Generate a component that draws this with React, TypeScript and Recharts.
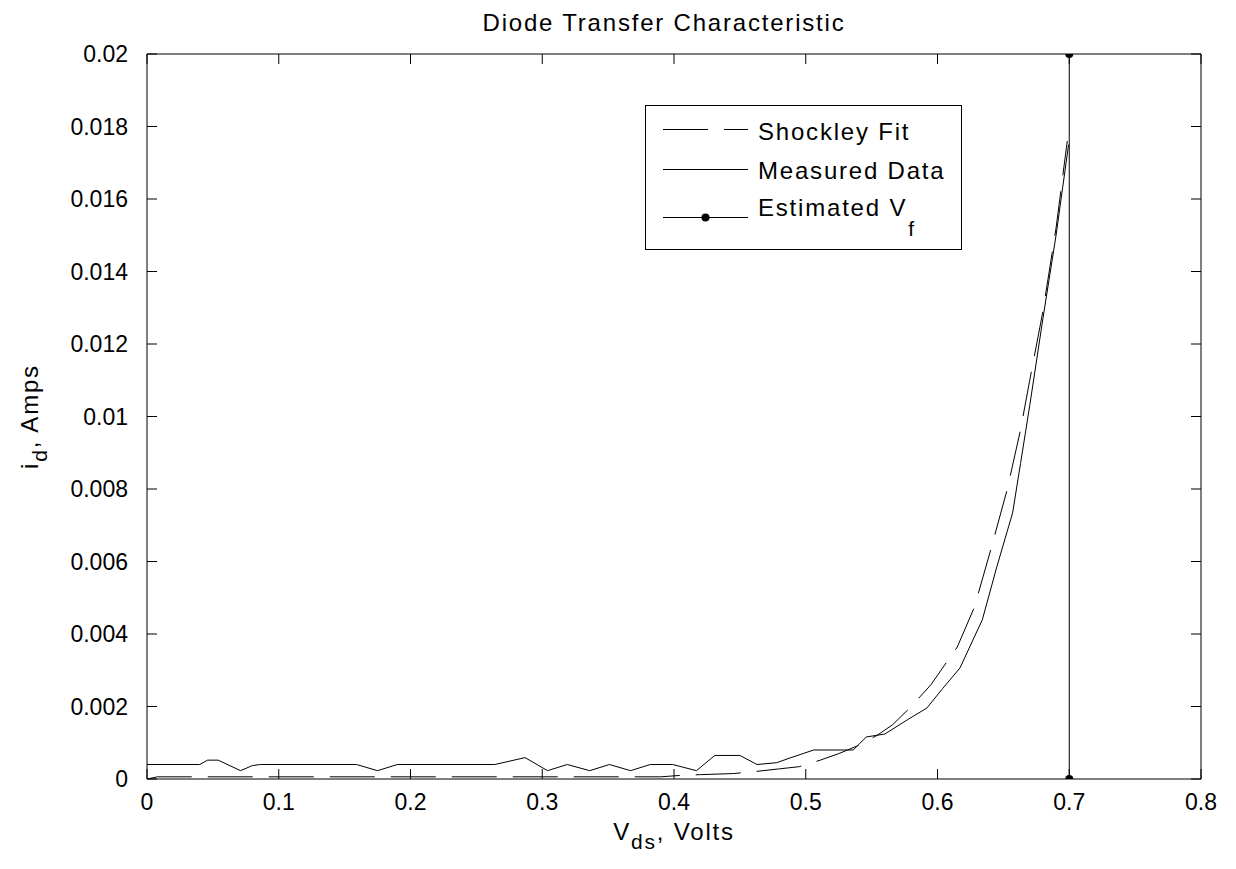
import React from 'react';
import { ComposedChart, Line, XAxis, YAxis } from 'recharts';

// ---- data ----
const measuredV = [0, 0.04, 0.046, 0.054, 0.071, 0.08, 0.086, 0.159, 0.175, 0.19, 0.264, 0.287, 0.304, 0.319, 0.336, 0.351, 0.367, 0.382, 0.399, 0.417, 0.431, 0.45, 0.463, 0.478, 0.488, 0.506, 0.536, 0.546, 0.56, 0.577, 0.592, 0.604, 0.617, 0.634, 0.645, 0.657, 0.663, 0.67, 0.68, 0.69, 0.6995];
const measuredI = [0.0004, 0.0004, 0.00052, 0.00052, 0.00023, 0.00037, 0.0004, 0.0004, 0.00023, 0.0004, 0.0004, 0.00059, 0.00023, 0.0004, 0.00023, 0.0004, 0.00023, 0.0004, 0.0004, 0.00023, 0.00065, 0.00065, 0.0004, 0.00045, 0.00058, 0.0008, 0.0008, 0.00116, 0.00124, 0.00163, 0.00196, 0.0025, 0.00306, 0.00439, 0.00585, 0.00734, 0.0087, 0.0103, 0.0127, 0.015, 0.0175];

const shockleyV = [0, 0.008, 0.39, 0.405, 0.42, 0.445, 0.46, 0.48, 0.495, 0.511, 0.525, 0.539, 0.554, 0.566, 0.579, 0.595, 0.608, 0.615, 0.628, 0.641, 0.653, 0.663, 0.67, 0.68, 0.69, 0.6985];
const shockleyI = [0, 0.00006, 0.00006, 0.0001, 0.00012, 0.00015, 0.0002, 0.00028, 0.00034, 0.00052, 0.0007, 0.00091, 0.0012, 0.0015, 0.00196, 0.0026, 0.00328, 0.00364, 0.00474, 0.0064, 0.008, 0.00963, 0.011, 0.0129, 0.0152, 0.0176];

const vfV = [0.7, 0.7];
const vfI = [0, 0.02];

const xTicks = [0, 0.1, 0.2, 0.3, 0.4, 0.5, 0.6, 0.7, 0.8];
const yTicks = [0, 0.002, 0.004, 0.006, 0.008, 0.01, 0.012, 0.014, 0.016, 0.018, 0.02];

const measured = measuredV.map((v, k) => ({ v, i: measuredI[k] }));
const shockley = shockleyV.map((v, k) => ({ v, i: shockleyI[k] }));
const vf = vfV.map((v, k) => ({ v, i: vfI[k] }));

// ---- layout ----
const W = 1236;
const H = 869;
const MARGIN = { top: 54, right: 35, left: 0, bottom: 0 };
const YW = 147;
const XH = 90;
const FONT = '"Liberation Sans", Arial, Helvetica, sans-serif';
const FS = 23;
const TFS = 24;
const LS = 1.8;
const TICK = 10;
const PLOT_L = YW;
const PLOT_R = W - MARGIN.right;
const PLOT_T = MARGIN.top;
const PLOT_B = H - XH;

const fmt = (n: number) => {
  if (n === 0) return '0';
  return String(parseFloat(n.toFixed(4)));
};

const XTick = (props: any) => {
  const { x, y, payload } = props;
  const cx = payload.coordinate;
  return (
    <g>
      <line x1={cx} x2={cx} y1={PLOT_B} y2={PLOT_B - TICK} stroke="#000" strokeWidth={1} />
      <line x1={cx} x2={cx} y1={PLOT_T} y2={PLOT_T + TICK} stroke="#000" strokeWidth={1} />
      <text x={x} y={y} dy="0.71em" textAnchor="middle" fontFamily={FONT} fontSize={FS} fill="#000">
        {fmt(payload.value)}
      </text>
    </g>
  );
};

const YTick = (props: any) => {
  const { x, y, payload } = props;
  const cy = payload.coordinate;
  return (
    <g>
      <line x1={PLOT_L} x2={PLOT_L + TICK} y1={cy} y2={cy} stroke="#000" strokeWidth={1} />
      <line x1={PLOT_R - TICK} x2={PLOT_R} y1={cy} y2={cy} stroke="#000" strokeWidth={1} />
      <text x={x} y={y} dy="0.355em" textAnchor="end" fontFamily={FONT} fontSize={FS} fill="#000">
        {fmt(payload.value)}
      </text>
    </g>
  );
};

const XLabel = () => (
  <text x={(PLOT_L + PLOT_R) / 2} y={PLOT_B + 61} textAnchor="middle" fontFamily={FONT} fontSize={TFS} letterSpacing={LS} fill="#000">
    <tspan>V</tspan>
    <tspan dy={9} fontSize={21}>ds</tspan>
    <tspan dy={-9}>, Volts</tspan>
  </text>
);

const LegendBox = () => (
  <g transform="translate(645,105)">
    <rect x={0.5} y={0.5} width={316} height={144} fill="#fff" stroke="#000" strokeWidth={1} />
    <line x1={18} x2={103} y1={24.5} y2={24.5} stroke="#000" strokeWidth={1} strokeDasharray="45 16" />
    <text x={113} y={35} fontFamily={FONT} fontSize={TFS} letterSpacing={LS} fill="#000">Shockley Fit</text>
    <line x1={18} x2={103} y1={64.5} y2={64.5} stroke="#000" strokeWidth={1} />
    <text x={113} y={74} fontFamily={FONT} fontSize={TFS} letterSpacing={LS} fill="#000">Measured Data</text>
    <line x1={18} x2={103} y1={112.5} y2={112.5} stroke="#000" strokeWidth={1} />
    <circle cx={60.5} cy={112.5} r={4} fill="#000" />
    <text x={113} y={111} fontFamily={FONT} fontSize={TFS} letterSpacing={LS} fill="#000">
      <tspan>Estimated V</tspan>
      <tspan dy={20} dx={1} fontSize={21}>f</tspan>
    </text>
  </g>
);

const YLabel = () => {
  const cx = 38;
  const cy = (PLOT_T + PLOT_B) / 2;
  return (
    <g>
      <text x={cx} y={cy} transform={`rotate(-90, ${cx}, ${cy})`} textAnchor="middle" fontFamily={FONT} fontSize={TFS} letterSpacing={LS} fill="#000">
        <tspan>i</tspan>
        <tspan dy={9} fontSize={21}>d</tspan>
        <tspan dy={-9}>, Amps</tspan>
      </text>
      <text x={(PLOT_L + PLOT_R) / 2 - 10} y={31} textAnchor="middle" fontFamily={FONT} fontSize={TFS} letterSpacing={LS} fill="#000">
        Diode Transfer Characteristic
      </text>
    </g>
  );
};

export default function App() {
  return (
    <div style={{ position: 'absolute', left: 0, top: 0, width: W, height: H, background: '#fff' }}>
      <ComposedChart width={W} height={H} margin={MARGIN}>
        <XAxis
          xAxisId={0}
          type="number"
          dataKey="v"
          domain={[0, 0.8]}
          ticks={xTicks}
          allowDataOverflow
          height={XH}
          tickSize={0}
          tickMargin={15}
          tickLine={false}
          axisLine={{ stroke: '#000', strokeWidth: 1 }}
          tick={XTick}
          interval={0}
          label={<XLabel />}
        />
        <YAxis
          yAxisId={0}
          type="number"
          domain={[0, 0.02]}
          ticks={yTicks}
          allowDataOverflow
          width={YW}
          tickSize={0}
          tickMargin={19}
          tickLine={false}
          axisLine={{ stroke: '#000', strokeWidth: 1 }}
          tick={YTick}
          interval={0}
          label={<YLabel />}
        />
        <XAxis xAxisId="xt" orientation="top" mirror type="number" domain={[0, 0.8]} ticks={xTicks} allowDataOverflow tick={false} tickLine={false} axisLine={{ stroke: '#000' }} />
        <YAxis yAxisId="yr" orientation="right" mirror type="number" domain={[0, 0.02]} ticks={yTicks} allowDataOverflow tick={false} tickLine={false} axisLine={{ stroke: '#000' }} label={<LegendBox />} />
        <Line data={shockley} dataKey="i" type="linear" stroke="#000" strokeWidth={1} strokeDasharray="45 16" dot={false} isAnimationActive={false} />
        <Line data={measured} dataKey="i" type="linear" stroke="#000" strokeWidth={1} dot={false} isAnimationActive={false} />
        <Line data={vf} dataKey="i" type="linear" stroke="#000" strokeWidth={1} dot={{ r: 4, fill: '#000', stroke: '#000', strokeWidth: 0 }} isAnimationActive={false} />
      </ComposedChart>
    </div>
  );
}
